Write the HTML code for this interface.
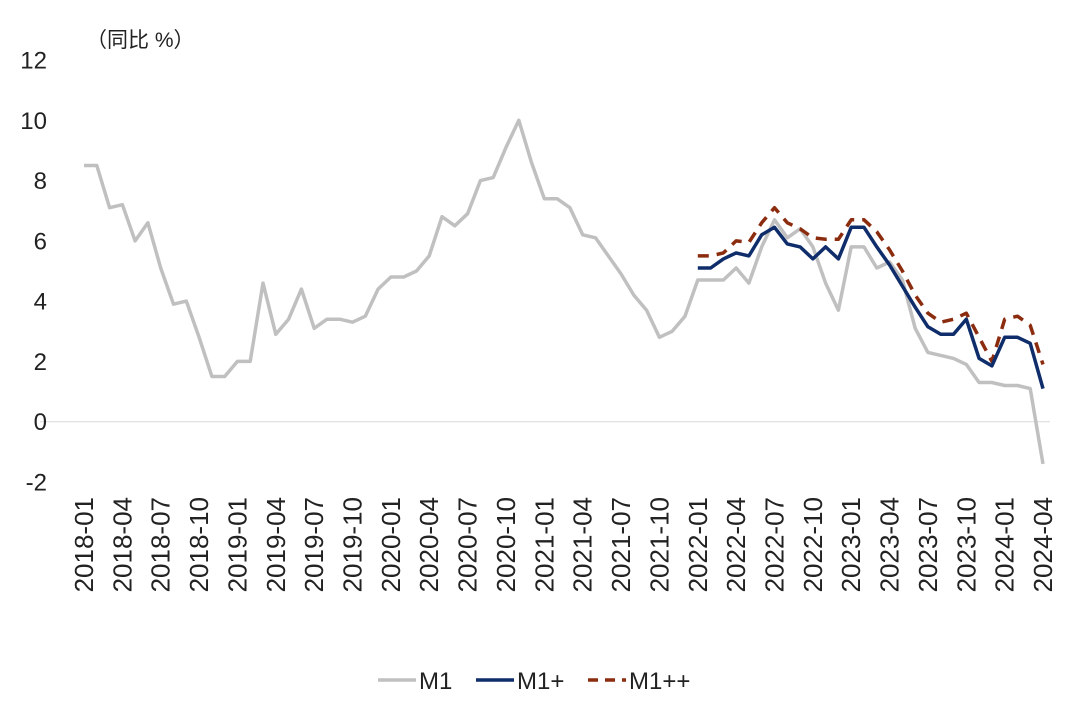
<!DOCTYPE html>
<html><head><meta charset="utf-8"><style>
body{margin:0;background:#fff;}
svg{display:block;font-family:"Liberation Sans","Noto Sans CJK SC",sans-serif;}
</style></head><body>
<svg id="chart" width="1080" height="709">
<text x="86" y="47" font-size="21" fill="#222">（同比 %）</text>
<g id="yaxis"></g>
<g id="xaxis"></g>
<g id="series"></g>
<g>
<g><line x1="378" y1="680" x2="416" y2="680" stroke="#c0c0c0" stroke-width="3.5"/><text x="419" y="689" font-size="24" fill="#222">M1</text></g>
<g><line x1="476" y1="680" x2="514" y2="680" stroke="#0f2d6b" stroke-width="3.5"/><text x="517" y="689" font-size="24" fill="#222">M1+</text></g>
<g><line x1="588" y1="680" x2="626" y2="680" stroke="#8b2c0f" stroke-width="3.5" stroke-dasharray="10,7"/><text x="629" y="689" font-size="24" fill="#222">M1++</text></g>
</g>
</svg>
<script>
const startYear = 2018, startMonth = 1;
const m1 = [8.5,8.5,7.1,7.2,6.0,6.6,5.1,3.9,4.0,2.8,1.5,1.5,
2.0,2.0,4.6,2.9,3.4,4.4,3.1,3.4,3.4,3.3,3.5,4.4,
4.8,4.8,5.0,5.5,6.8,6.5,6.9,8.0,8.1,9.1,10.0,8.6,
7.4,7.4,7.1,6.2,6.1,5.5,4.9,4.2,3.7,2.8,3.0,3.5,
4.7,4.7,4.7,5.1,4.6,5.8,6.7,6.1,6.4,5.8,4.6,3.7,
5.8,5.8,5.1,5.3,4.7,3.1,2.3,2.2,2.1,1.9,1.3,1.3,
1.2,1.2,1.1,-1.4];
const m1PlusStart = 48;
const m1Plus = [5.1,5.1,5.4,5.6,5.5,6.2,6.45,5.9,5.8,5.4,5.8,5.4,
6.45,6.45,5.8,5.2,4.5,3.8,3.15,2.9,2.9,3.4,2.1,1.85,
2.8,2.8,2.6,1.1];
const m1PlusPlus = [5.5,5.5,5.6,6.0,5.95,6.6,7.1,6.6,6.4,6.1,6.05,6.05,
6.7,6.7,6.3,5.7,5.0,4.2,3.6,3.3,3.4,3.6,2.8,2.0,
3.4,3.5,3.2,1.9];
const yTicks = [12,10,8,6,4,2,0,-2];

const NS="http://www.w3.org/2000/svg";
const x0=84, dx=12.787, yTop=60, yBot=482, vTop=12, vBot=-2;
const X=i=>x0+i*dx;
const Y=v=>yTop+(vTop-v)*(yBot-yTop)/(vTop-vBot);
function mk(tag,attrs,parent){const e=document.createElementNS(NS,tag);for(const k in attrs)e.setAttribute(k,attrs[k]);parent.appendChild(e);return e;}
const ya=document.getElementById('yaxis'), xa=document.getElementById('xaxis'), sg=document.getElementById('series');
const zl=mk('line',{x1:40,x2:1050,y1:Y(0),y2:Y(0),stroke:'#d9d9d9','stroke-width':1},ya);


yTicks.forEach(v=>{const t=mk('text',{x:47,y:Y(v)+8.5,'text-anchor':'end','font-size':24,fill:'#222'},ya);t.textContent=v;

});
for(let i=0;i<m1.length;i+=3){const mo=(startMonth-1+i)%12+1, yr=startYear+Math.floor((startMonth-1+i)/12);
const lab=yr+'-'+String(mo).padStart(2,'0');const cx=X(i)+9;
const t=mk('text',{x:0,y:0,transform:`translate(${cx},497) rotate(-90)`,'text-anchor':'end','font-size':26,fill:'#222'},xa);t.textContent=lab;

}
function line(arr,start,color,dash,name){const pts=arr.map((v,i)=>X(start+i).toFixed(1)+','+Y(v).toFixed(1)).join(' ');
const p=mk('polyline',{points:pts,fill:'none',stroke:color,'stroke-width':3.5,'stroke-linejoin':'round'},sg);
if(dash)p.setAttribute('stroke-dasharray',dash);

}
line(m1,0,'#c0c0c0',null,'m1-line');
line(m1PlusPlus,m1PlusStart,'#8b2c0f','11,8','m1-plusplus-line');
line(m1Plus,m1PlusStart,'#0f2d6b',null,'m1-plus-line');
</script>
</body></html>
